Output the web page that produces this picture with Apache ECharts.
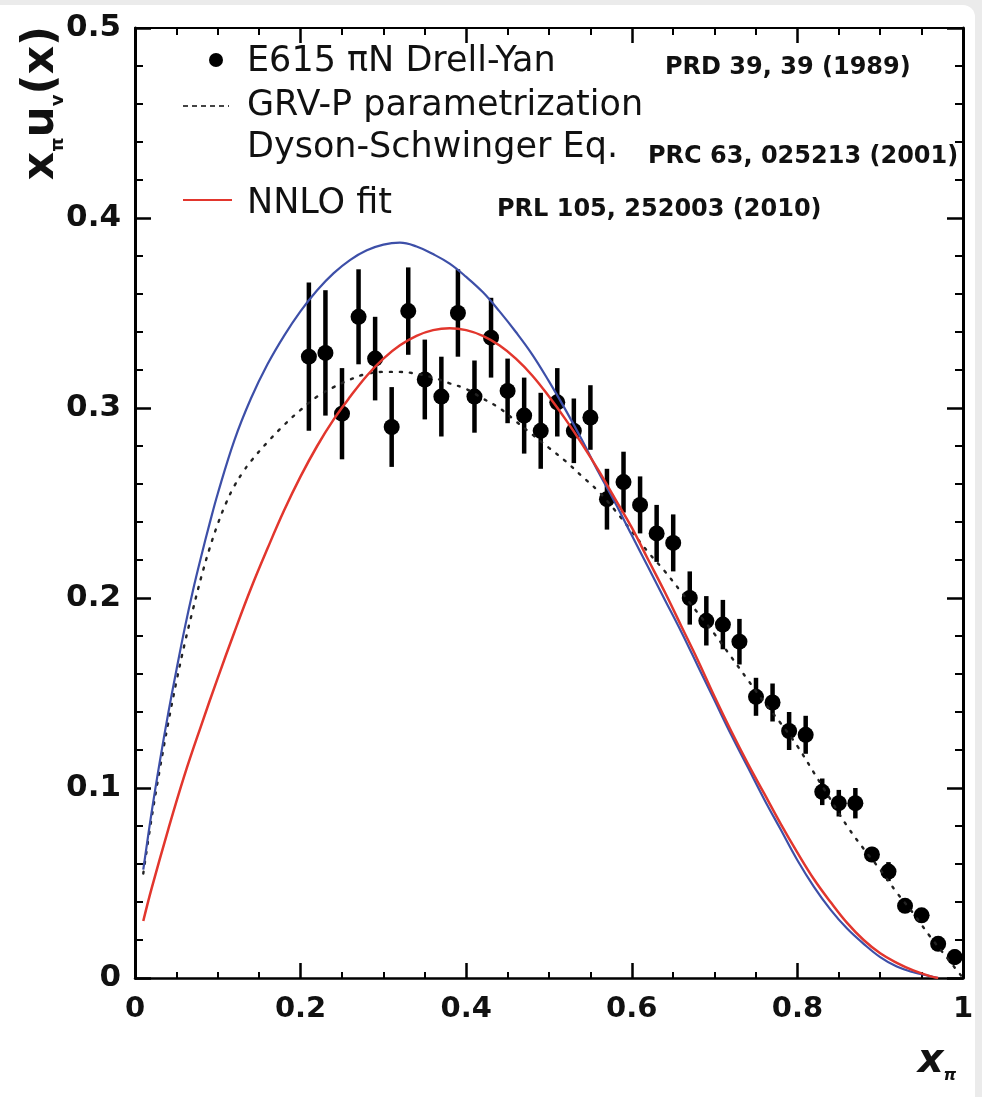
<!DOCTYPE html>
<html>
<head>
<meta charset="utf-8">
<script src="https://cdn.jsdelivr.net/npm/echarts@6/dist/echarts.min.js"></script>
<style>
  html, body { margin: 0; padding: 0; background: #ffffff; }
  #chart { width: 982px; height: 1097px; }
</style>
</head>
<body>
<div id="chart"></div>
<script>
// E615 pion-nucleon Drell-Yan data: x_pi, x u_v(x), statistical error
const e615X = [0.21, 0.23, 0.25, 0.27, 0.29, 0.31, 0.33, 0.35, 0.37, 0.39,
               0.41, 0.43, 0.45, 0.47, 0.49, 0.51, 0.53, 0.55, 0.57, 0.59,
               0.61, 0.63, 0.65, 0.67, 0.69, 0.71, 0.73, 0.75, 0.77, 0.79,
               0.81, 0.83, 0.85, 0.87, 0.89, 0.91, 0.93, 0.95, 0.97, 0.99];
const e615Y = [0.327, 0.329, 0.297, 0.348, 0.326, 0.290, 0.351, 0.315, 0.306, 0.350,
               0.306, 0.337, 0.309, 0.296, 0.288, 0.303, 0.288, 0.295, 0.252, 0.261,
               0.249, 0.234, 0.229, 0.200, 0.188, 0.186, 0.177, 0.148, 0.145, 0.130,
               0.128, 0.098, 0.092, 0.092, 0.065, 0.056, 0.038, 0.033, 0.018, 0.011];
const e615Err = [0.039, 0.033, 0.024, 0.025, 0.022, 0.021, 0.023, 0.021, 0.021, 0.023,
                 0.019, 0.021, 0.017, 0.020, 0.020, 0.018, 0.017, 0.017, 0.016, 0.016,
                 0.015, 0.015, 0.015, 0.014, 0.013, 0.013, 0.012, 0.010, 0.010, 0.010,
                 0.010, 0.007, 0.007, 0.008, 0.004, 0.005, 0.003, 0.003, 0.003, 0.004];

// GRV-P parametrization (dotted)
const grvX = [0.01, 0.02, 0.03, 0.04, 0.05, 0.06, 0.07, 0.08, 0.09, 0.10, 0.11, 0.12, 0.13,
              0.14, 0.16, 0.18, 0.20, 0.22, 0.24, 0.26, 0.28, 0.30, 0.32, 0.34, 0.36, 0.38,
              0.40, 0.42, 0.44, 0.46, 0.48, 0.50, 0.52, 0.54, 0.56, 0.58, 0.60, 0.62, 0.64,
              0.66, 0.68, 0.70, 0.72, 0.74, 0.76, 0.78, 0.80, 0.82, 0.84, 0.86, 0.88, 0.90,
              0.92, 0.94, 0.96, 0.98, 1.00];
const grvY = [0.055, 0.084, 0.110, 0.134, 0.156, 0.176, 0.194, 0.211, 0.226, 0.239, 0.250, 0.259, 0.266,
              0.272, 0.282, 0.291, 0.299, 0.306, 0.311, 0.315, 0.318, 0.319, 0.319, 0.318, 0.316, 0.313,
              0.310, 0.305, 0.300, 0.293, 0.286, 0.279, 0.272, 0.264, 0.256, 0.246, 0.235, 0.224, 0.214,
              0.203, 0.192, 0.181, 0.169, 0.157, 0.145, 0.134, 0.122, 0.108, 0.094, 0.080, 0.068, 0.057,
              0.045, 0.034, 0.022, 0.011, 0.000];

// Dyson-Schwinger equation result (blue)
const dseX = [0.01, 0.02, 0.03, 0.04, 0.05, 0.06, 0.07, 0.08, 0.09, 0.10, 0.12, 0.14, 0.16,
              0.18, 0.20, 0.22, 0.24, 0.26, 0.28, 0.30, 0.32, 0.34, 0.36, 0.38, 0.40, 0.42,
              0.44, 0.46, 0.48, 0.50, 0.52, 0.54, 0.56, 0.58, 0.60, 0.62, 0.64, 0.66, 0.68,
              0.70, 0.72, 0.74, 0.76, 0.78, 0.80, 0.82, 0.84, 0.86, 0.88, 0.90, 0.92, 0.94,
              0.96, 0.97];
const dseY = [0.057, 0.087, 0.114, 0.139, 0.162, 0.184, 0.204, 0.222, 0.239, 0.255, 0.283, 0.305, 0.323,
              0.338, 0.351, 0.362, 0.371, 0.378, 0.383, 0.386, 0.387, 0.385, 0.381, 0.376, 0.369, 0.361,
              0.351, 0.340, 0.328, 0.314, 0.299, 0.283, 0.266, 0.250, 0.233, 0.216, 0.199, 0.182, 0.164,
              0.146, 0.128, 0.111, 0.094, 0.078, 0.062, 0.048, 0.036, 0.026, 0.018, 0.011, 0.006, 0.003,
              0.001, 0.000];

// NNLO fit (red)
const nnloX = [0.01, 0.02, 0.04, 0.06, 0.08, 0.10, 0.12, 0.14, 0.16, 0.18, 0.20, 0.22, 0.24,
               0.26, 0.28, 0.30, 0.32, 0.34, 0.36, 0.38, 0.40, 0.42, 0.44, 0.46, 0.48, 0.50,
               0.52, 0.54, 0.56, 0.58, 0.60, 0.62, 0.64, 0.66, 0.68, 0.70, 0.72, 0.74, 0.76,
               0.78, 0.80, 0.82, 0.84, 0.86, 0.88, 0.90, 0.92, 0.94, 0.96, 0.97];
const nnloY = [0.030, 0.047, 0.078, 0.107, 0.133, 0.158, 0.182, 0.205, 0.226, 0.246, 0.264, 0.280, 0.294,
               0.306, 0.317, 0.326, 0.333, 0.338, 0.341, 0.342, 0.341, 0.338, 0.333, 0.326, 0.317, 0.306,
               0.294, 0.281, 0.267, 0.252, 0.237, 0.220, 0.203, 0.185, 0.167, 0.148, 0.130, 0.113, 0.097,
               0.081, 0.066, 0.052, 0.040, 0.029, 0.020, 0.013, 0.008, 0.004, 0.001, 0.000];

const pairs = (xs, ys) => xs.map((x, i) => [x, ys[i]]);

const FONT = 'DejaVu Sans';
const INK = '#111111';
const BLUE = '#3d4fa8';
const RED = '#e2362d';

function frameAxis(extra, tickLen, minorLen, splitNumber) {
  return Object.assign({
    type: 'value',
    splitLine: { show: false },
    axisTick: { show: true, inside: true, length: tickLen, lineStyle: { color: '#000', width: 2.5 } },
    minorTick: { show: true, splitNumber: splitNumber, length: minorLen, lineStyle: { color: '#000', width: 2 } }
  }, extra);
}

const chart = echarts.init(document.getElementById('chart'), null, { renderer: 'canvas' });

chart.setOption({
  animation: false,
  backgroundColor: '#ebebeb',
  grid: { left: 135, right: 19, top: 28, bottom: 119, containLabel: false },
  xAxis: [
    frameAxis({
      min: 0, max: 1, interval: 0.2, position: 'bottom',
      axisLine: { show: true, onZero: false, lineStyle: { color: '#000', width: 2.5 } },
      axisLabel: { margin: 17, fontFamily: FONT, fontWeight: 'bold', fontSize: 29, color: INK }
    }, 15, 6, 4),
    frameAxis({
      min: 0, max: 1, interval: 0.2, position: 'top',
      axisLine: { show: true, onZero: false, lineStyle: { color: '#000', width: 2 } },
      axisLabel: { show: false }
    }, 15, 7, 4)
  ],
  yAxis: [
    frameAxis({
      min: 0, max: 0.5, interval: 0.1, position: 'left',
      axisLine: { show: true, onZero: false, lineStyle: { color: '#000', width: 3 } },
      axisLabel: { margin: 14, fontFamily: FONT, fontWeight: 'bold', fontSize: 31, color: INK }
    }, 16, 8, 5),
    frameAxis({
      min: 0, max: 0.5, interval: 0.1, position: 'right',
      axisLine: { show: true, onZero: false, lineStyle: { color: '#000', width: 3 } },
      axisLabel: { show: false }
    }, 16, 8, 5)
  ],
  series: [
    {
      name: 'E615 errors',
      type: 'custom',
      z: 2,
      data: e615X.map((x, i) => [x, e615Y[i], e615Err[i]]),
      renderItem: function (params, api) {
        const x = api.value(0), y = api.value(1), e = api.value(2);
        const top = api.coord([x, y + e]);
        const bot = api.coord([x, y - e]);
        return {
          type: 'line',
          shape: { x1: top[0], y1: top[1], x2: bot[0], y2: bot[1] },
          style: { stroke: '#000', lineWidth: 4.5 }
        };
      }
    },
    {
      name: 'E615 \u03c0N Drell-Yan',
      type: 'scatter',
      z: 3,
      symbol: 'circle',
      symbolSize: 16,
      itemStyle: { color: '#000', opacity: 1 },
      data: pairs(e615X, e615Y)
    },
    {
      name: 'GRV-P parametrization',
      type: 'line',
      z: 4,
      showSymbol: false,
      smooth: 0.4,
      data: pairs(grvX, grvY),
      lineStyle: { color: '#222', width: 2.4, type: [2, 8], cap: 'round' }
    },
    {
      name: 'Dyson-Schwinger Eq.',
      type: 'line',
      z: 5,
      showSymbol: false,
      smooth: 0.4,
      data: pairs(dseX, dseY),
      lineStyle: { color: BLUE, width: 2.2 }
    },
    {
      name: 'NNLO fit',
      type: 'line',
      z: 6,
      showSymbol: false,
      smooth: 0.4,
      data: pairs(nnloX, nnloY),
      lineStyle: { color: RED, width: 2.5 }
    }
  ],
  graphic: [
    // white card behind the plot
    { type: 'rect', z: -100, silent: true,
      shape: { x: -20, y: 5, width: 995, height: 1120, r: 12 },
      style: { fill: '#ffffff' } },
    // y-axis title: x_pi u_v(x)
    {
      type: 'text', x: 42, y: 103, rotation: Math.PI / 2, z: 10,
      style: {
        text: '{m|x}{s|\u03c0}{m|u}{s|v}{m|(x)}',
        align: 'center', verticalAlign: 'middle',
        rich: {
          m: { fontFamily: FONT, fontWeight: 'bold', fontSize: 44, lineHeight: 50, fill: INK },
          s: { fontFamily: FONT, fontWeight: 'bold', fontSize: 18, lineHeight: 18, verticalAlign: 'bottom', fill: INK }
        }
      }
    },
    // x-axis title: x_pi
    {
      type: 'text', x: 937, y: 1062, z: 10,
      style: {
        text: '{m|x}{s|\u03c0}',
        align: 'center', verticalAlign: 'middle',
        rich: {
          m: { fontFamily: FONT, fontWeight: 'bold', fontStyle: 'italic', fontSize: 40, lineHeight: 44, fill: INK },
          s: { fontFamily: FONT, fontWeight: 'bold', fontStyle: 'italic', fontSize: 16, lineHeight: 16, verticalAlign: 'bottom', fill: INK }
        }
      }
    },
    // legend
    { type: 'circle', shape: { cx: 216, cy: 60, r: 7 }, style: { fill: '#000' }, z: 10 },
    { type: 'text', x: 247, y: 62, z: 10,
      style: { text: 'E615 \u03c0N Drell-Yan', fontFamily: FONT, fontSize: 35, fill: INK, verticalAlign: 'middle' } },
    { type: 'text', x: 665, y: 68, z: 10,
      style: { text: 'PRD 39, 39 (1989)', fontFamily: FONT, fontWeight: 'bold', fontSize: 24, fill: INK, verticalAlign: 'middle' } },
    { type: 'line', shape: { x1: 183, y1: 106, x2: 229, y2: 106 }, z: 10,
      style: { stroke: '#444', lineWidth: 2, lineDash: [5, 4] } },
    { type: 'text', x: 247, y: 106, z: 10,
      style: { text: 'GRV-P parametrization', fontFamily: FONT, fontSize: 35, fill: INK, verticalAlign: 'middle' } },
    { type: 'text', x: 247, y: 148, z: 10,
      style: { text: 'Dyson-Schwinger Eq.', fontFamily: FONT, fontSize: 35, fill: INK, verticalAlign: 'middle' } },
    { type: 'text', x: 648, y: 157, z: 10,
      style: { text: 'PRC 63, 025213 (2001)', fontFamily: FONT, fontWeight: 'bold', fontSize: 24, fill: INK, verticalAlign: 'middle' } },
    { type: 'line', shape: { x1: 183, y1: 200, x2: 232, y2: 200 }, z: 10,
      style: { stroke: RED, lineWidth: 2 } },
    { type: 'text', x: 247, y: 204, z: 10,
      style: { text: 'NNLO fit', fontFamily: FONT, fontSize: 35, fill: INK, verticalAlign: 'middle' } },
    { type: 'text', x: 497, y: 210, z: 10,
      style: { text: 'PRL 105, 252003 (2010)', fontFamily: FONT, fontWeight: 'bold', fontSize: 24, fill: INK, verticalAlign: 'middle' } }
  ]
});
</script>
</body>
</html>
